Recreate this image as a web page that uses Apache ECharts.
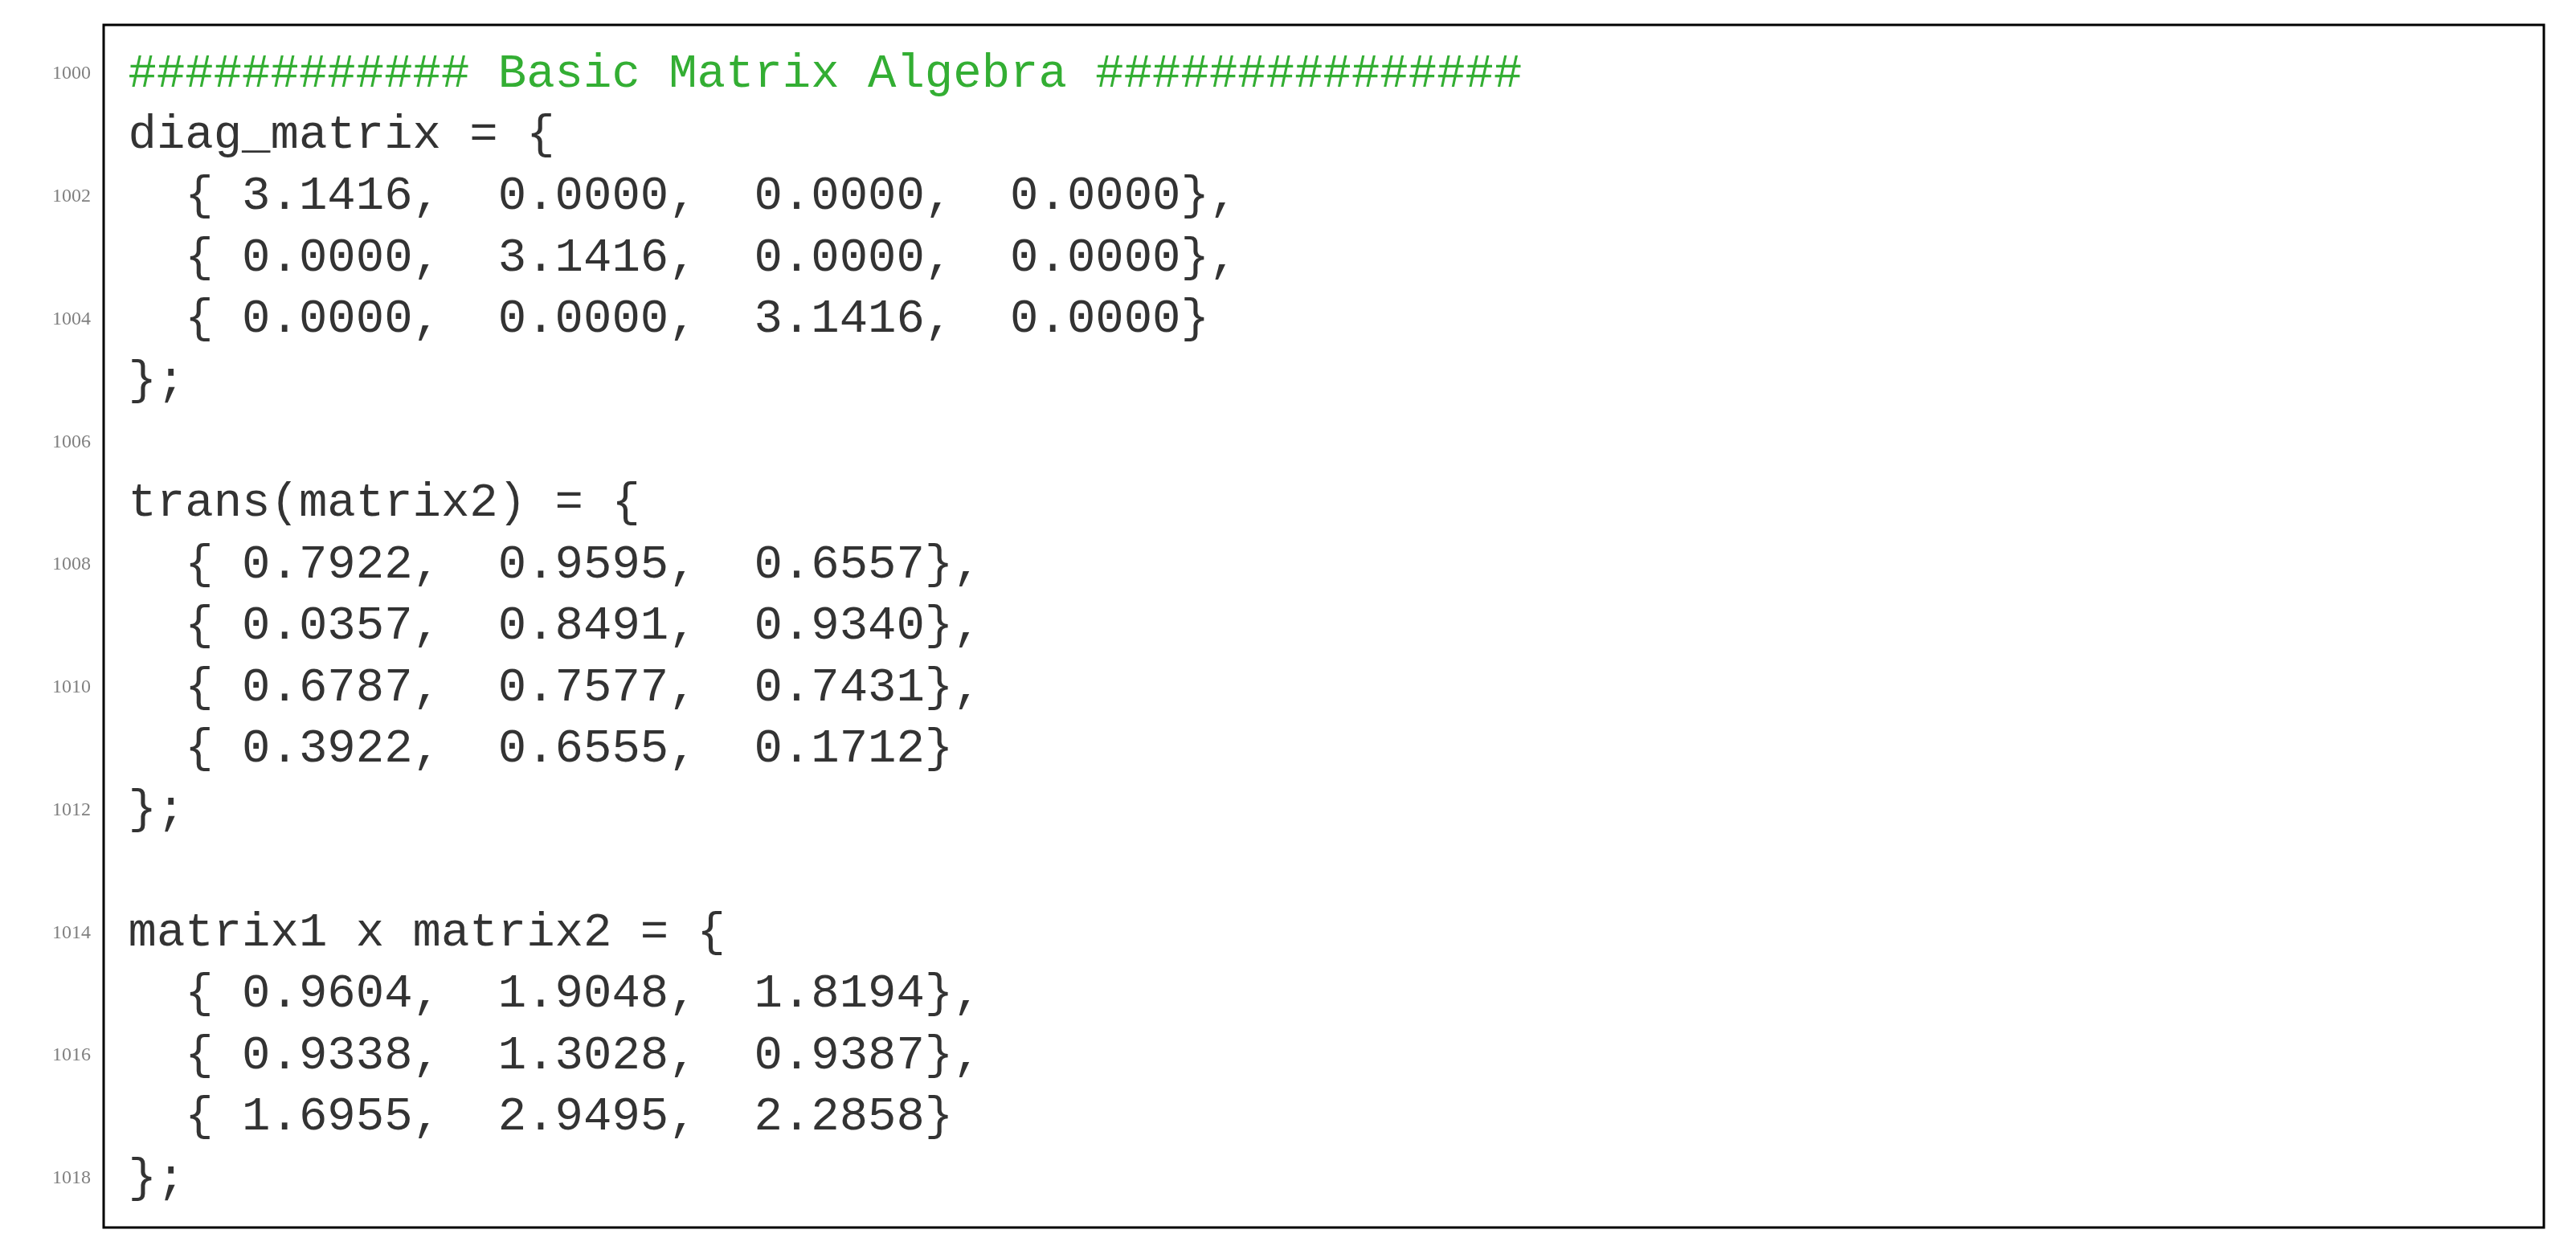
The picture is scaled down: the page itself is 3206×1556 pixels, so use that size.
<!DOCTYPE html>
<html><head><meta charset="utf-8">
<script src="https://cdn.jsdelivr.net/npm/echarts@6/dist/echarts.min.js"></script>
<style>html,body{margin:0;padding:0;background:#fff}#c{width:3206px;height:1556px}</style>
</head><body><div id="c"></div>
<script>
const firstLineNumber = 1000;
const codeLines = [
  "############ Basic Matrix Algebra ###############",
  "diag_matrix = {",
  "  { 3.1416,  0.0000,  0.0000,  0.0000},",
  "  { 0.0000,  3.1416,  0.0000,  0.0000},",
  "  { 0.0000,  0.0000,  3.1416,  0.0000}",
  "};",
  "",
  "trans(matrix2) = {",
  "  { 0.7922,  0.9595,  0.6557},",
  "  { 0.0357,  0.8491,  0.9340},",
  "  { 0.6787,  0.7577,  0.7431},",
  "  { 0.3922,  0.6555,  0.1712}",
  "};",
  "",
  "matrix1 x matrix2 = {",
  "  { 0.9604,  1.9048,  1.8194},",
  "  { 0.9338,  1.3028,  0.9387},",
  "  { 1.6955,  2.9495,  2.2858}",
  "};"
];
const numberedLines = [0,2,4,6,8,10,12,14,16,18];
const commentLines = [0];

const chart = echarts.init(document.getElementById('c'));
chart.setOption({
  animation:false,
  grid:{left:129,right:40,top:31,bottom:28,show:true,borderColor:'#000',borderWidth:3,backgroundColor:'#fff'},
  xAxis:{type:'value',min:0,max:1,show:false},
  yAxis:{type:'value',inverse:true,min:-0.8,max:18.8,
    axisLine:{show:false},axisTick:{show:false},splitLine:{show:false},
    axisLabel:{customValues:numberedLines,formatter:v=>String(firstLineNumber+v),
      color:'#808080',fontFamily:'Liberation Serif',fontSize:24,margin:16}},
  series:[{type:'scatter',symbolSize:1,itemStyle:{color:'transparent'},
    data:codeLines.map((t,i)=>({value:[0,i],
      label:{color:commentLines.includes(i)?'#009a00':'#000'}})),
    label:{show:true,position:'right',distance:30,color:'#000',textBorderWidth:0,
      fontFamily:'Liberation Mono',fontSize:59,
      formatter:p=>codeLines[p.data.value[1]]}}]
});
</script></body></html>
